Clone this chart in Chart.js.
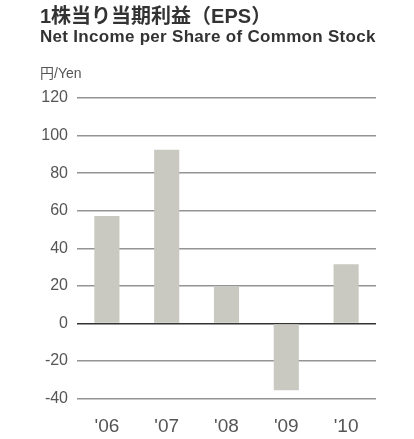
<!DOCTYPE html>
<html>
<head>
<meta charset="utf-8">
<script src="https://cdn.jsdelivr.net/npm/chart.js@4/dist/chart.umd.min.js"></script>
<style>
  html, body { margin: 0; padding: 0; background: #fff; }
  #wrap { position: relative; width: 414px; height: 439px; overflow: hidden; }
  #chart { position: absolute; left: 0; top: 0; }
  .txt { position: absolute; white-space: nowrap; }
  #title { left: 40px; top: 6px; font: bold 20px/20px "Liberation Sans", "Noto Sans CJK JP", sans-serif; color: #333; }
  #subtitle { left: 40px; top: 28px; font: bold 17px/17px "Liberation Sans", Arial, sans-serif; letter-spacing: 0.3px; color: #333; }
  #unit { left: 40px; top: 66px; font: 14px/14px "Liberation Sans", "Noto Sans CJK JP", sans-serif; color: #555; }
</style>
</head>
<body>
<div id="wrap">
  <canvas id="chart" width="414" height="439"></canvas>
  <div id="title" class="txt">1株当り当期利益（EPS）</div>
  <div id="subtitle" class="txt">Net Income per Share of Common Stock</div>
  <div id="unit" class="txt">円/Yen</div>
</div>
<script>
// Fiscal years and earnings per share (yen)
const years = ["'06", "'07", "'08", "'09", "'10"];
const eps = [57.2, 92.5, 19.7, -35.6, 31.5];
const yTicks = [-40, -20, 0, 20, 40, 60, 80, 100, 120];

const ctx = document.getElementById('chart').getContext('2d');
new Chart(ctx, {
  type: 'bar',
  data: {
    labels: years,
    datasets: [{
      data: eps,
      backgroundColor: '#c9c9c1',
      borderWidth: 0,
      barPercentage: 0.42,
      categoryPercentage: 1.0
    }]
  },
  options: {
    responsive: false,
    animation: false,
    events: [],
    layout: { padding: { top: 98, right: 38, bottom: 0, left: 0 } },
    plugins: { legend: { display: false }, tooltip: { enabled: false }, title: { display: false } },
    scales: {
      x: {
        grid: { display: false, drawTicks: false },
        border: { display: false },
        ticks: {
          color: '#555',
          padding: 17,
          font: { family: '"Liberation Sans", Arial, sans-serif', size: 19 }
        },
        afterFit: (s) => { s.height = 40.5; }
      },
      y: {
        min: yTicks[0],
        max: yTicks[yTicks.length - 1],
        afterBuildTicks: (s) => { s.ticks = yTicks.map(v => ({ value: v })); },
        grid: {
          drawTicks: false,
          color: (c) => c.tick && c.tick.value === 0 ? '#333' : '#949494',
          lineWidth: 1.5
        },
        border: { display: false },
        ticks: {
          color: '#555',
          padding: 9,
          font: { family: '"Liberation Sans", Arial, sans-serif', size: 16 }
        },
        afterFit: (s) => { s.width = 77; }
      }
    }
  }
});
</script>
</body>
</html>
